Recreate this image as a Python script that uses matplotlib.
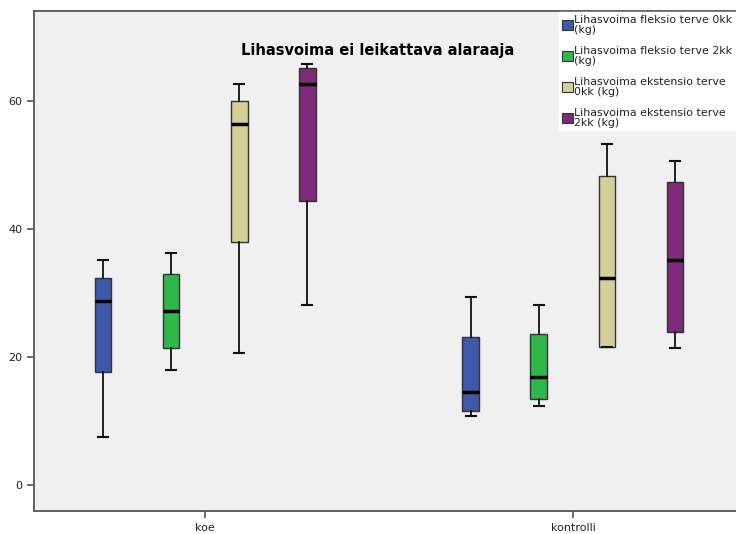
import matplotlib
matplotlib.use("Agg")
import matplotlib.pyplot as plt
from matplotlib.patches import Patch

groups = ["koe", "kontrolli"]
series = ["Lihasvoima fleksio terve 0kk\n(kg)",
          "Lihasvoima fleksio terve 2kk\n(kg)",
          "Lihasvoima ekstensio terve\n0kk (kg)",
          "Lihasvoima ekstensio terve\n2kk (kg)"]
colors = ["#3e58ac", "#2fb84a", "#d4d09a", "#7d2a7b"]

# whislo, q1, median, q3, whishi per series, [koe, kontrolli]
whislo = [[7.5, 10.8], [18.0, 12.3], [20.7, 21.5], [28.2, 21.4]]
q1 = [[17.7, 11.6], [21.4, 13.5], [38.0, 21.5], [44.4, 23.9]]
med = [[28.8, 14.6], [27.2, 16.8], [56.4, 32.4], [62.6, 35.1]]
q3 = [[32.3, 23.1], [33.0, 23.6], [60.0, 48.3], [65.2, 47.3]]
whishi = [[35.2, 29.4], [36.2, 28.1], [62.6, 53.3], [65.8, 50.6]]

fig = plt.figure(figsize=(7.36, 5.34), dpi=100)
ax = fig.add_axes([34/736, 23/534, 710/736, 500/534])
ax.set_facecolor("#f0f0f0")

step = 0.185
width = 0.046
for s in range(4):
    stats = []
    for g in range(2):
        stats.append({"whislo": whislo[s][g], "q1": q1[s][g], "med": med[s][g],
                      "q3": q3[s][g], "whishi": whishi[s][g], "fliers": []})
    pos = [g + (s - 1.5) * step for g in range(2)]
    ax.bxp(stats, positions=pos, widths=width, patch_artist=True,
           showfliers=False, manage_ticks=False,
           boxprops=dict(facecolor=colors[s], edgecolor="#333333", linewidth=1.0),
           medianprops=dict(color="black", linewidth=2.5),
           whiskerprops=dict(color="#111111", linewidth=1.3),
           capprops=dict(color="#111111", linewidth=1.5),
           capwidths=width*0.55)

ax.set_xlim(-0.465, 1.465)
ax.set_ylim(-4.06, 74.06)
ax.set_xticks([0, 1])
ax.set_xticklabels(groups)
ax.set_yticks([0, 20, 40, 60])
for side in ["left", "bottom", "top"]:
    ax.spines[side].set_color("#555555")
    ax.spines[side].set_linewidth(1.3)
ax.spines["right"].set_visible(False)
ax.tick_params(axis="both", colors="#555555", labelcolor="#222222",
               labelsize=8, length=5, width=1.2)

ax.text(0.4845, 0.922, "Lihasvoima ei leikattava alaraaja", transform=ax.transAxes,
        ha="center", va="center", fontsize=10.5, fontweight="bold")

handles = [Patch(facecolor=c, edgecolor="#333333", linewidth=0.8) for c in colors]
leg = fig.legend(handles, series, loc="upper left",
                 bbox_to_anchor=(559/736, 1 - 134/534, 177/736, 122/534), mode="expand",
                 fontsize=7.9, frameon=True, fancybox=False, handlelength=1.0,
                 handleheight=1.1, handletextpad=0.15, borderpad=0.25, labelspacing=1.0,
                 borderaxespad=0)
leg.get_frame().set_facecolor("white")
leg.get_frame().set_edgecolor("white")
leg.get_frame().set_alpha(1)
for t in leg.get_texts():
    t.set_linespacing(1.0)
    t.set_color("#222222")

fig.savefig("out.png", dpi=100)
